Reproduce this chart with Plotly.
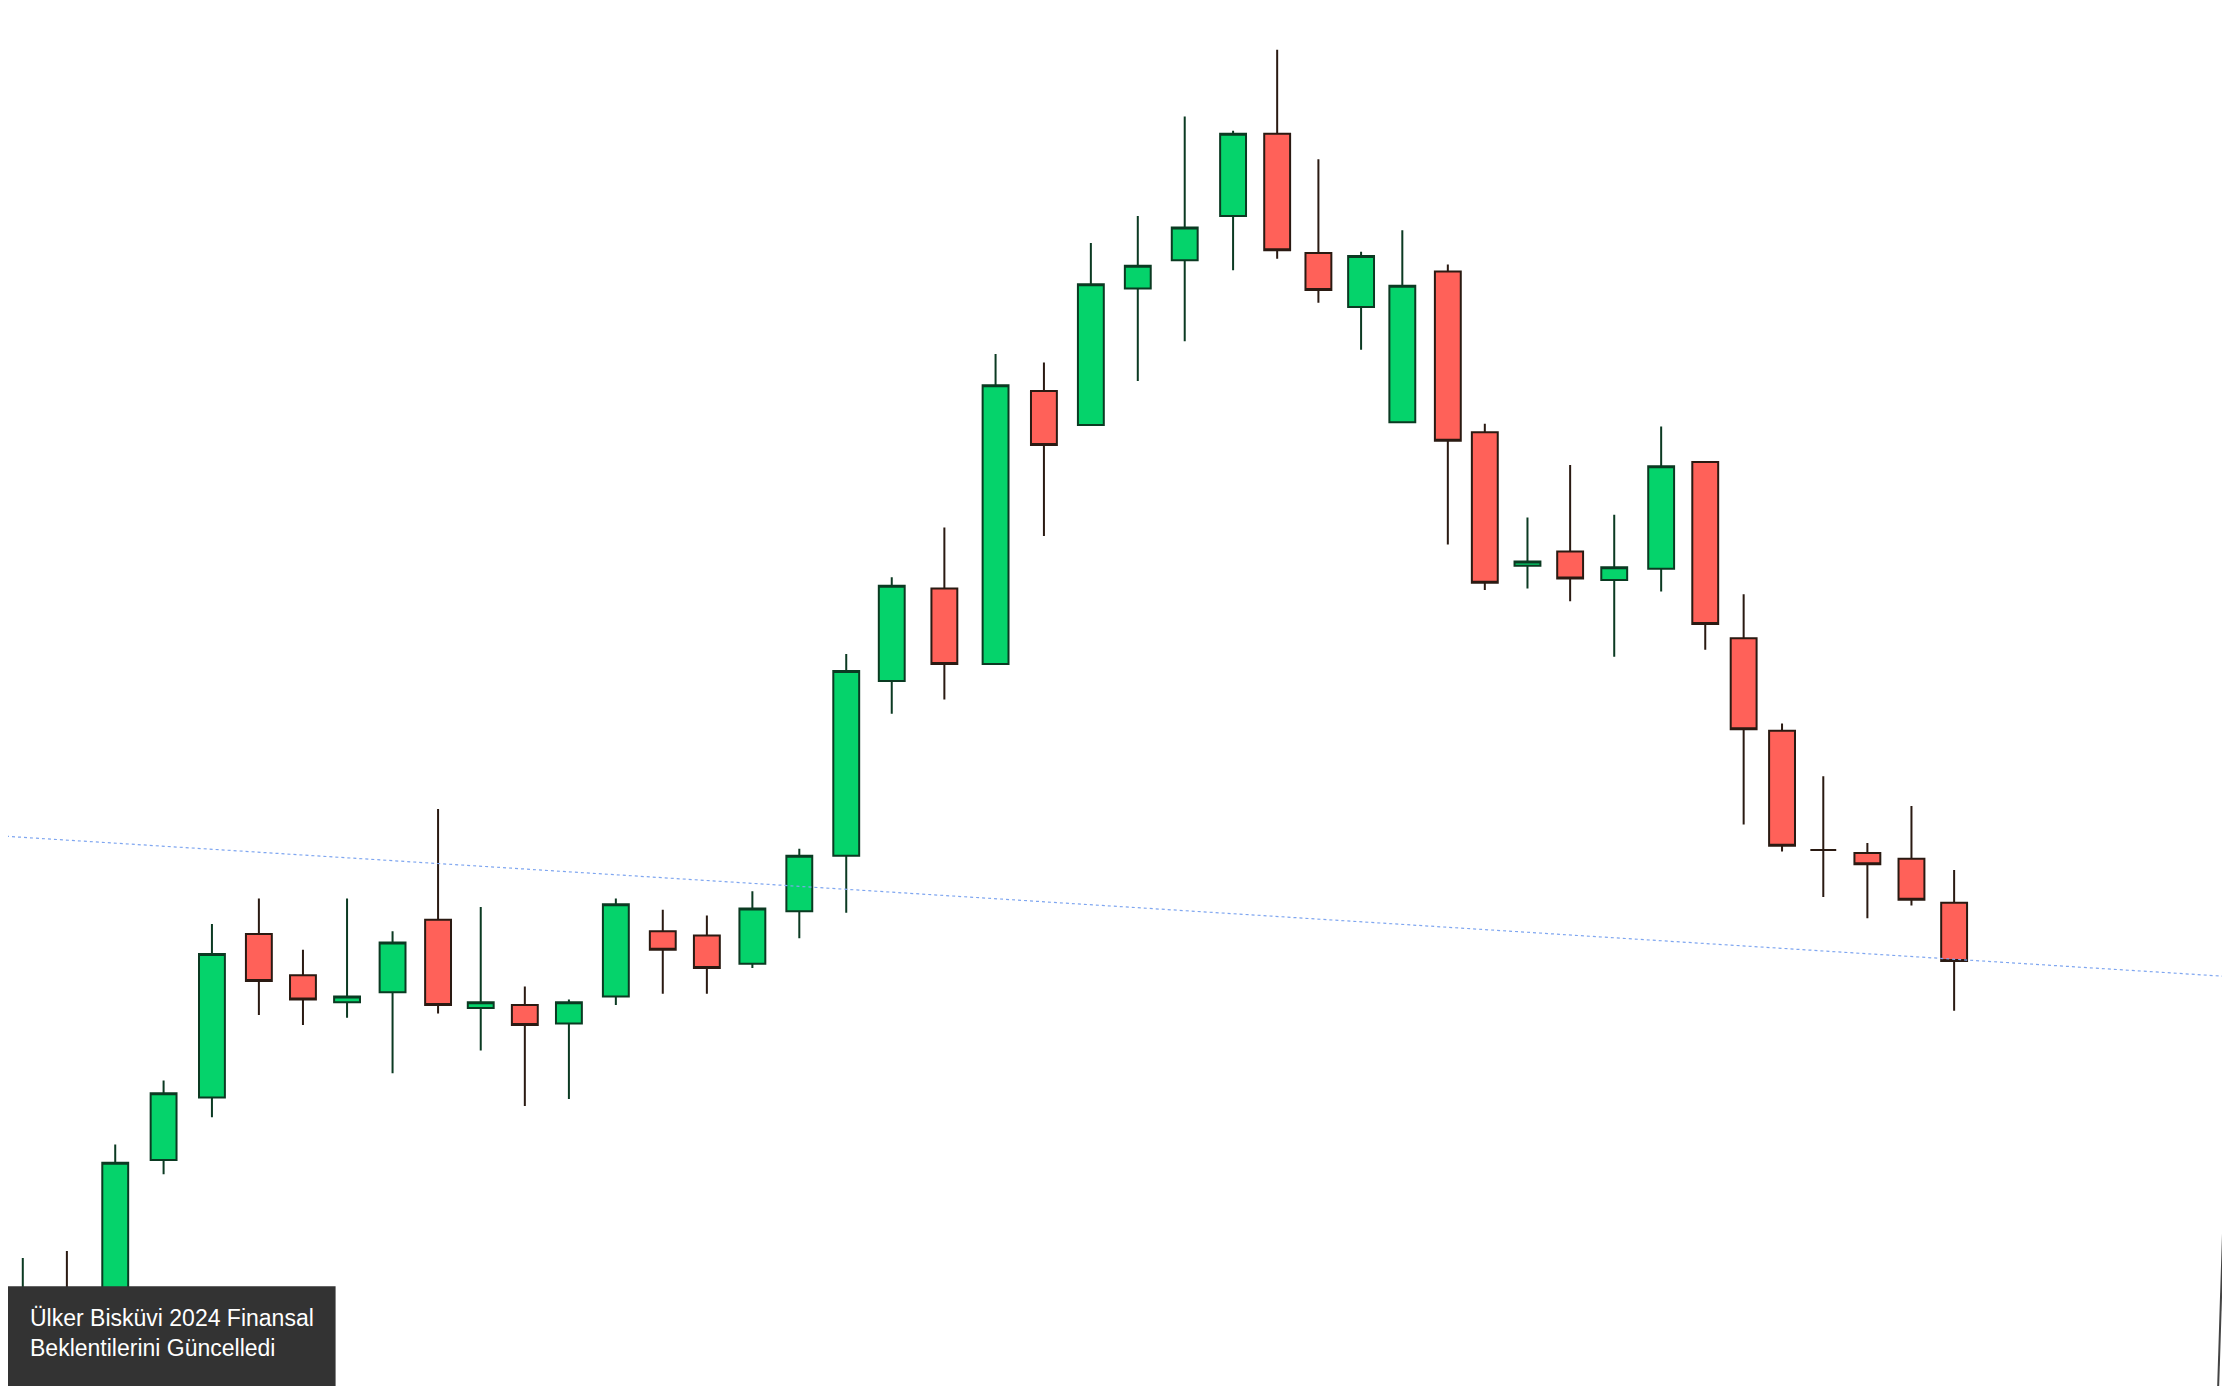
import plotly.graph_objs as go

# candle positions and prices (arbitrary units, higher = up)
xpos = [16, 47, 81, 115, 149, 182, 213, 244, 276, 308, 338, 369, 400, 433, 466, 497, 529, 562, 595, 627,
        664, 700, 734, 767, 800, 833, 867, 898, 927, 957, 986, 1018, 1044, 1074, 1104, 1135, 1168, 1199,
        1226, 1253, 1282, 1313, 1344, 1374]
high = [90, 95, 170, 215, 325, 343, 307, 343, 320, 406, 337, 281, 272, 343, 335, 331, 348, 378, 515, 569, 604, 726, 720, 804, 823, 893, 883, 940, 863, 798, 813, 789, 677, 611, 648, 613, 675, 650, 557, 466, 429, 382, 408, 363]
low = [55, 57, 55, 149, 189, 261, 254, 259, 220, 262, 236, 197, 202, 268, 276, 276, 294, 315, 333, 473, 483, 508, 598, 676, 707, 735, 785, 793, 762, 729, 678, 592, 560, 561, 552, 513, 559, 518, 395, 376, 344, 329, 338, 264]
open_ = [65, 64, 60, 159, 203, 318, 289, 270, 277, 328, 266, 268, 255, 274, 320, 317, 297, 334, 373, 496, 561, 508, 700, 676, 772, 792, 823, 881, 797, 759, 678, 784, 671, 577, 587, 567, 575, 650, 526, 461, 377, 375, 371, 340]
close = [65, 64, 157, 206, 304, 285, 272, 274, 312, 268, 270, 254, 270, 339, 307, 294, 336, 373, 503, 563, 508, 704, 662, 775, 788, 815, 881, 799, 771, 795, 774, 665, 565, 580, 568, 576, 647, 536, 462, 380, 377, 367, 342, 299]

trend_x = [0, 1568]
trend_y = [387, 288]

label = "Ülker Bisküvi 2024 Finansal<br>Beklentilerini Güncelledi"

# the page adds a small body margin; shift the view to compensate
off = 5.6

fig = go.Figure()
fig.add_trace(go.Candlestick(
    x=xpos, open=open_, high=high, low=low, close=close,
    increasing=dict(fillcolor="#05d36b", line=dict(color="#0b3a22", width=2)),
    decreasing=dict(fillcolor="#ff6159", line=dict(color="#2a1a12", width=2)),
    whiskerwidth=0, showlegend=False))
fig.add_trace(go.Scatter(x=trend_x, y=trend_y, mode="lines",
                         line=dict(color="#7fa6f0", width=1.2, dash="dot"),
                         showlegend=False, hoverinfo="skip"))

fig.add_shape(type="rect", xref="paper", yref="paper", x0=0.0026 - 0.0036, x1=0.1505 - 0.0036,
              y0=-0.01, y1=0.072 + 0.0057,
              fillcolor="#333333", line=dict(width=0), layer="above")
fig.add_annotation(xref="paper", yref="paper", x=0.0125 - 0.0036, y=0.038 + 0.0057,
                   xanchor="left", yanchor="middle",
                   text=label, showarrow=False, align="left",
                   font=dict(family="Liberation Sans, Arial", size=23, color="white"))
# right-hand axis edge
fig.add_shape(type="line", xref="paper", yref="paper", x0=0.9975, y0=0.33, x1=0.991, y1=0,
              line=dict(color="#444444", width=2))

fig.update_layout(
    width=2230, height=1386, margin=dict(l=0, r=0, t=0, b=0),
    paper_bgcolor="white", plot_bgcolor="white", boxgap=0,
    xaxis=dict(range=[off, 1568 + off], visible=False, rangeslider=dict(visible=False)),
    yaxis=dict(range=[-off, 975 - off], visible=False),
)
fig.write_html("out.html")
